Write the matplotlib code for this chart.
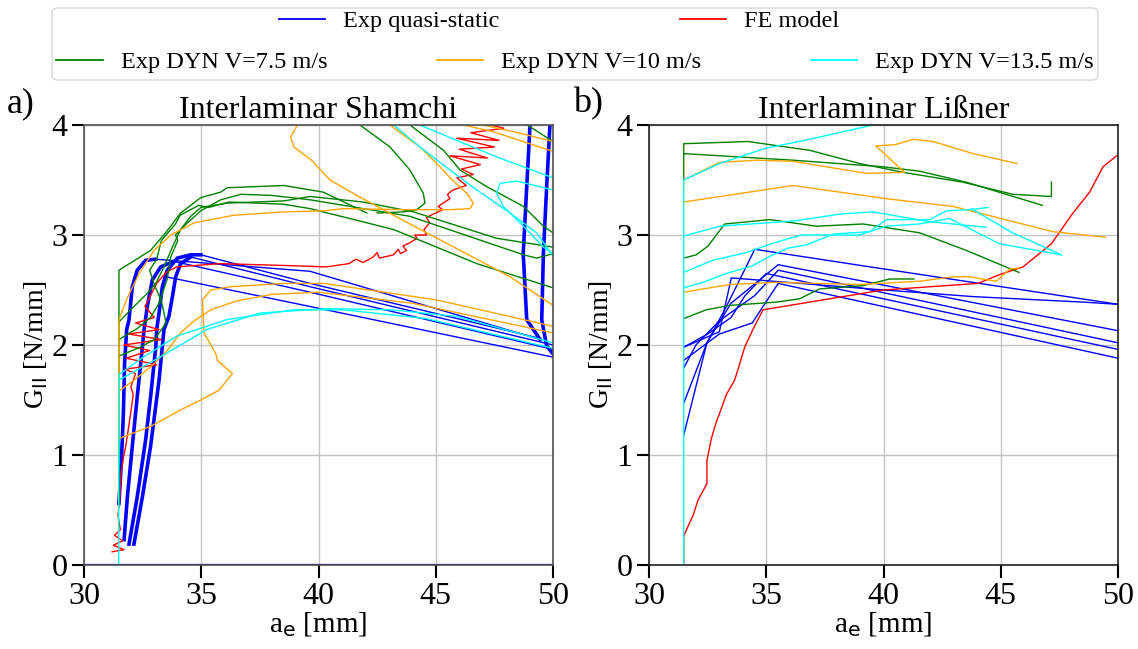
import numpy as np
import matplotlib
matplotlib.use('Agg')
from matplotlib import pyplot as plt
from matplotlib.lines import Line2D
from matplotlib.patches import FancyBboxPatch

plt.rcParams['font.family'] = ['Liberation Serif', 'DejaVu Serif']
plt.rcParams['mathtext.fontset'] = 'dejavusans'

# ---------------- Interlaminar Shamchi (panel a) ----------------
# quasi-static: dense loading parts (drawn thick) and the straight parts
shamchi_qs_dense = [
    [(31.49, 0.56), (31.59, 0.92), (31.68, 1.38), (31.73, 1.83), (31.82, 2.14), (31.92, 2.23),
     (32.06, 2.53), (32.27, 2.68), (32.63, 2.77), (33.06, 2.78)],
    [(31.71, 0.23), (31.85, 0.62), (32.06, 1.08), (32.27, 1.53), (32.49, 1.98), (32.56, 2.14),
     (32.70, 2.35), (32.91, 2.59), (33.27, 2.71), (33.84, 2.76)],
    [(31.92, 0.19), (32.27, 0.62), (32.63, 1.14), (32.84, 1.53), (33.06, 1.98), (33.10, 2.14),
     (33.20, 2.29), (33.34, 2.53), (33.55, 2.68), (33.98, 2.79), (34.55, 2.82), (34.98, 2.82)],
    [(32.13, 0.19), (32.49, 0.62), (32.84, 1.08), (33.20, 1.68), (33.41, 2.14), (33.62, 2.26),
     (33.77, 2.44), (33.91, 2.62), (34.12, 2.74), (34.55, 2.80)],
    [(49.45, 2.05), (48.88, 2.23), (48.73, 2.83), (48.88, 3.44), (49.02, 4.00)],
    [(50.00, 1.92), (49.73, 1.99), (49.52, 2.23), (49.59, 2.83), (49.73, 3.44), (49.87, 4.00)],
]
shamchi_qs_line = [
    [(33.06, 2.78), (39.64, 2.67), (49.45, 2.05)],
    [(34.98, 2.82), (39.64, 2.56), (49.45, 2.06)],
    [(34.55, 2.80), (39.64, 2.53), (50.00, 2.00)],
    [(33.84, 2.76), (39.64, 2.48), (50.00, 1.96)],
    [(33.50, 2.62), (39.64, 2.35), (50.00, 1.89)],
]
shamchi_qs_base = [(30.00, 0.00), (50.00, 0.00)]
shamchi_fe = [
    [(31.20, 0.12), (31.70, 0.14), (31.25, 0.18), (31.65, 0.22), (31.30, 0.27), (31.55, 0.32),
     (31.45, 0.45), (31.52, 0.60), (31.58, 0.83), (31.70, 1.00), (31.78, 1.08), (31.90, 1.25),
     (31.99, 1.38), (32.10, 1.55), (32.00, 1.62), (32.20, 1.74), (31.75, 1.78), (33.10, 1.82),
     (31.80, 1.88), (32.80, 1.95), (31.70, 2.00), (33.30, 2.05), (31.90, 2.10), (33.20, 2.14),
     (32.20, 2.20), (33.00, 2.25), (32.60, 2.35), (33.10, 2.56), (33.50, 2.66), (33.95, 2.71),
     (35.80, 2.74), (39.00, 2.72), (40.34, 2.71), (41.30, 2.74), (41.60, 2.78), (41.90, 2.75),
     (42.33, 2.80), (42.50, 2.84), (42.60, 2.79), (43.20, 2.82), (43.40, 2.87), (43.50, 2.83),
     (43.75, 2.86), (43.60, 2.90), (43.90, 2.93), (44.20, 2.97), (44.10, 3.00), (44.60, 3.00),
     (44.50, 3.05), (44.74, 3.11), (44.60, 3.16), (45.00, 3.20), (45.30, 3.23), (45.10, 3.26),
     (45.60, 3.33), (45.50, 3.37), (45.74, 3.41), (46.30, 3.45), (45.90, 3.52), (46.60, 3.55),
     (46.10, 3.60), (46.90, 3.64), (45.60, 3.72), (47.20, 3.70), (46.00, 3.78), (47.50, 3.80),
     (45.90, 3.88), (47.70, 3.86), (46.50, 3.93), (47.90, 3.97), (47.00, 4.02)],
]
shamchi_v75 = [
    [(31.49, 0.55), (31.49, 2.68), (32.84, 2.86), (33.48, 3.02), (34.12, 3.20), (34.98, 3.34),
     (35.83, 3.39), (36.11, 3.43), (38.53, 3.45), (39.64, 3.41), (40.20, 3.39), (42.06, 3.20)],
    [(31.49, 2.21), (32.13, 2.35), (32.70, 2.47), (33.06, 2.56), (33.41, 2.71), (33.77, 2.89),
     (34.12, 3.05), (34.55, 3.17), (34.98, 3.25), (36.11, 3.29), (38.53, 3.31), (39.64, 3.35),
     (41.90, 3.30), (44.05, 3.21), (47.60, 2.97), (50.00, 2.89)],
    [(31.49, 2.05), (32.27, 2.15), (32.84, 2.25), (33.20, 2.38), (33.55, 2.60), (33.70, 2.80),
     (34.00, 2.95), (33.90, 3.00), (34.26, 3.08), (34.98, 3.22), (35.83, 3.32), (36.70, 3.37),
     (38.00, 3.36), (39.64, 3.32), (43.90, 3.17), (48.74, 2.82), (49.30, 2.79), (50.00, 2.83)],
    [(31.49, 1.90), (32.40, 1.98), (33.00, 2.05), (33.50, 2.20), (33.30, 2.40), (33.00, 2.55),
     (32.80, 2.68), (33.10, 2.78), (33.30, 2.95), (33.90, 3.10), (34.10, 3.18), (34.90, 3.27),
     (35.30, 3.25), (36.20, 3.30), (38.50, 3.28), (39.64, 3.24), (43.20, 3.05), (46.75, 2.74),
     (50.00, 2.52)],
    [(42.50, 3.20), (43.62, 3.21), (44.19, 3.23), (44.54, 3.29), (44.47, 3.38), (43.90, 3.59),
     (43.05, 3.80), (41.77, 4.00)],
    [(43.90, 4.00), (45.33, 3.77), (46.04, 3.59), (47.17, 3.44), (48.74, 3.26), (49.59, 3.08),
     (50.00, 3.02)],
    [(48.90, 4.00), (50.00, 3.85)],
]
shamchi_v10 = [
    [(31.49, 1.15), (32.84, 1.26), (34.12, 1.41), (34.98, 1.50), (35.76, 1.59), (36.33, 1.74),
     (35.69, 1.86), (35.62, 1.92), (35.12, 2.11), (35.05, 2.41), (35.40, 2.50), (36.25, 2.53),
     (38.53, 2.56), (40.23, 2.56), (45.03, 2.41), (50.00, 2.17)],
    [(31.49, 1.58), (32.13, 1.68), (32.84, 1.80), (33.55, 1.95), (34.12, 2.11), (34.70, 2.22),
     (35.40, 2.32), (36.50, 2.40), (38.00, 2.46), (40.00, 2.48), (44.00, 2.38), (50.00, 2.11)],
    [(31.49, 1.15), (31.49, 2.23), (31.85, 2.43), (32.35, 2.65), (32.99, 2.86), (33.70, 3.00),
     (34.69, 3.11), (36.40, 3.18), (38.53, 3.21), (40.23, 3.22), (41.06, 3.24), (43.90, 3.23),
     (45.61, 3.23), (46.46, 3.24), (46.60, 3.29), (46.32, 3.38), (45.61, 3.52), (45.18, 3.62),
     (44.33, 3.80), (43.05, 4.00)],
    [(39.10, 4.00), (38.81, 3.89), (38.95, 3.80), (39.70, 3.68), (40.49, 3.50), (41.63, 3.36),
     (43.90, 3.10), (46.04, 2.86), (48.17, 2.62), (50.00, 2.36)],
    [(46.17, 4.00), (47.44, 3.94), (50.00, 3.76)],
    [(47.00, 4.00), (48.50, 3.93), (50.00, 3.85)],
]
shamchi_v135 = [
    [(31.48, 0.00), (31.48, 1.73), (32.53, 1.89), (33.95, 2.08), (36.08, 2.23), (38.92, 2.32),
     (41.05, 2.32), (44.60, 2.24), (50.00, 1.97)],
    [(31.48, 1.68), (33.24, 1.89), (35.23, 2.14), (37.50, 2.29), (40.30, 2.33), (43.10, 2.32),
     (45.90, 2.26), (50.00, 2.02)],
    [(43.20, 4.00), (44.33, 3.80), (45.61, 3.59), (46.75, 3.41), (48.17, 3.20), (49.30, 3.02),
     (50.00, 2.81)],
    [(44.33, 4.00), (45.90, 3.86), (47.60, 3.71), (50.00, 3.52)],
    [(50.00, 3.41), (48.45, 3.49), (47.74, 3.47), (47.60, 3.38), (47.88, 3.26), (48.74, 3.08),
     (49.59, 2.89), (50.00, 2.83)],
]

# ---------------- Interlaminar Lißner (panel b) ----------------
lissner_qs = [
    [(31.48, 1.18), (32.47, 2.02), (33.30, 2.35), (34.51, 2.87), (40.05, 2.69), (50.00, 2.37)],
    [(31.48, 1.47), (32.47, 2.02), (33.50, 2.38), (35.51, 2.73), (50.00, 2.13)],
    [(31.48, 1.79), (32.00, 2.00), (33.00, 2.22), (34.51, 2.45), (35.51, 2.68), (50.00, 2.02)],
    [(31.48, 1.86), (33.00, 2.10), (34.40, 2.20), (35.51, 2.56), (50.00, 1.88)],
    [(31.48, 1.98), (33.00, 2.12), (33.51, 2.61), (39.41, 2.51), (43.82, 2.44), (48.50, 2.39),
     (50.00, 2.37)],
    [(31.48, 1.98), (32.50, 2.10), (33.50, 2.25), (34.10, 2.45), (35.00, 2.65), (50.00, 1.96)],
]
lissner_fe = [
    [(31.48, 0.00), (31.48, 0.26), (31.66, 0.35), (31.88, 0.45), (32.09, 0.59), (32.47, 0.74),
     (32.47, 0.95), (32.66, 1.15), (32.87, 1.30), (33.08, 1.42), (33.30, 1.55), (33.65, 1.68),
     (33.87, 1.83), (34.08, 1.98), (34.43, 2.14), (34.86, 2.32), (39.98, 2.50), (44.03, 2.56),
     (44.95, 2.64), (45.95, 2.71), (47.16, 2.92), (48.08, 3.20), (48.79, 3.39), (49.36, 3.62),
     (50.00, 3.73)],
]
lissner_v75 = [
    [(31.48, 3.50), (31.48, 3.83), (34.22, 3.85), (36.85, 3.77), (38.98, 3.65), (40.83, 3.57),
     (43.39, 3.48), (45.52, 3.37), (47.16, 3.35), (47.16, 3.48)],
    [(31.48, 3.74), (36.14, 3.68), (39.98, 3.62), (41.54, 3.58), (43.53, 3.48), (46.77, 3.27)],
    [(31.48, 2.79), (32.02, 2.82), (32.52, 2.90), (32.87, 3.00), (33.23, 3.10), (35.15, 3.14),
     (37.14, 3.08), (39.13, 3.10), (41.54, 3.02), (43.53, 2.86), (45.78, 2.66)],
    [(31.48, 2.24), (32.44, 2.32), (33.44, 2.36), (35.43, 2.39), (36.42, 2.42), (37.28, 2.51),
     (39.13, 2.54), (40.26, 2.60), (41.30, 2.60)],
]
lissner_v10 = [
    [(31.48, 3.45), (31.48, 3.50), (33.01, 3.66), (34.58, 3.68), (36.14, 3.67), (39.27, 3.56),
     (40.90, 3.57), (39.67, 3.81), (40.48, 3.82), (41.26, 3.87), (42.11, 3.85), (43.82, 3.74),
     (45.69, 3.65)],
    [(31.48, 3.30), (36.14, 3.45), (40.12, 3.33), (42.96, 3.26), (47.23, 3.03), (49.46, 2.98)],
    [(31.48, 2.48), (33.44, 2.55), (35.43, 2.57), (38.98, 2.55), (41.54, 2.58), (42.96, 2.62),
     (43.67, 2.62), (44.81, 2.58), (45.38, 2.69), (45.78, 2.70)],
]
lissner_v135 = [
    [(31.48, 0.00), (31.48, 3.50), (33.01, 3.65), (35.00, 3.79), (36.85, 3.87), (39.55, 4.00)],
    [(31.48, 2.99), (33.01, 3.08), (36.28, 3.13), (38.13, 3.19), (39.55, 3.21), (42.00, 3.12),
     (44.38, 3.07)],
    [(31.48, 2.66), (32.72, 2.77), (34.14, 2.84), (35.35, 2.93), (36.50, 3.00), (38.98, 3.00),
     (40.12, 3.08), (41.50, 3.10), (42.82, 3.15), (44.95, 2.92), (47.58, 2.82)],
    [(31.48, 2.52), (32.30, 2.57), (33.30, 2.65), (34.40, 2.72), (35.10, 2.80), (35.90, 2.88),
     (36.70, 2.91), (37.90, 3.01), (39.41, 3.03), (40.12, 3.14), (41.97, 3.14), (42.68, 3.22),
     (43.67, 3.23), (44.46, 3.25)],
    [(43.74, 3.24), (45.50, 3.02), (47.58, 2.82)],
]

labels = ['Exp quasi-static', 'FE model', 'Exp DYN V=7.5 m/s', 'Exp DYN V=10 m/s', 'Exp DYN V=13.5 m/s']
colors = ['blue', 'red', 'green', 'orange', 'cyan']


def draw(ax, curves, color, lw=1.0):
    for c in curves:
        x, y = np.array(c).T
        ax.plot(x, y, '-', color=color, lw=lw, solid_joinstyle='round')


def style(ax, title, spine_color):
    ax.set_xlim(30, 50)
    ax.set_ylim(0, 4)
    ax.set_xticks([30, 35, 40, 45, 50])
    ax.set_yticks([0, 1, 2, 3, 4])
    ax.grid(True, color='#c4c4c4', lw=1.0)
    ax.set_axisbelow(True)
    ax.tick_params(direction='out', length=9, width=1.5, labelsize=23, pad=3)
    for s in ax.spines.values():
        s.set_linewidth(1.2)
        s.set_color(spine_color)
    ax.set_title(title, fontsize=23, pad=2)
    ax.set_xlabel(r'a$_\mathrm{e}$ [mm]', fontsize=21, labelpad=0)
    ax.set_ylabel(r'G$_\mathrm{II}$ [N/mm]', fontsize=20, labelpad=1)


fig = plt.figure(figsize=(11.38, 6.49), dpi=100)
ax1 = fig.add_axes([84 / 1138, 84 / 649, 469 / 1138, 440 / 649])
ax2 = fig.add_axes([649 / 1138, 84 / 649, 469 / 1138, 440 / 649])

# panel a
draw(ax1, shamchi_qs_line, 'blue', 1.0)
draw(ax1, shamchi_qs_dense, 'blue', 2.6)
draw(ax1, [shamchi_qs_base], 'blue', 1.6)
draw(ax1, shamchi_fe, 'red', 1.0)
draw(ax1, shamchi_v75, 'green', 1.0)
draw(ax1, shamchi_v10, 'orange', 1.0)
draw(ax1, shamchi_v135, 'cyan', 1.0)
style(ax1, 'Interlaminar Shamchi', '#505050')

# panel b
draw(ax2, lissner_qs, 'blue', 1.0)
draw(ax2, lissner_fe, 'red', 1.0)
draw(ax2, lissner_v75, 'green', 1.0)
draw(ax2, lissner_v10, 'orange', 1.0)
draw(ax2, lissner_v135, 'cyan', 1.0)
style(ax2, 'Interlaminar Lißner', '#202020')

fig.text(7 / 1138, 1 - 104 / 649, 'a)', fontsize=26, va='center')
fig.text(573 / 1138, 1 - 104 / 649, 'b)', fontsize=26, va='center')

# legend: rounded frame with two rows
frame = FancyBboxPatch((52 / 1138, 1 - 80 / 649), 1046 / 1138, 72 / 649,
                       boxstyle='round,pad=0,rounding_size=0.006', transform=fig.transFigure,
                       facecolor='white', edgecolor='#d8d8d8', lw=1.0)
fig.patches.append(frame)
handles = [Line2D([], [], color=c, lw=1.3) for c in colors]
fig.legend(handles[:2], labels[:2], ncol=2, loc='center', bbox_to_anchor=(559 / 1138, 1 - 21 / 649),
           frameon=False, fontsize=17.5, columnspacing=7.4, handlelength=1.9, handletextpad=0.75)
fig.legend(handles[2:], labels[2:], ncol=3, loc='center', bbox_to_anchor=(575 / 1138, 1 - 62 / 649),
           frameon=False, fontsize=17.5, columnspacing=4.5, handlelength=1.9, handletextpad=0.75)

fig.savefig('out.png', dpi=100)
